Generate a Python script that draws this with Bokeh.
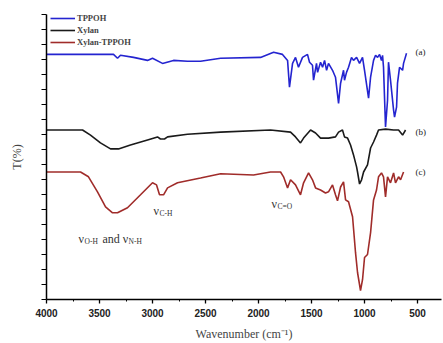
from bokeh.plotting import figure
from bokeh.models import Range1d, FixedTicker, ColumnDataSource
from bokeh.core.properties import value
from bokeh.embed import file_html
from bokeh.resources import INLINE

# ---------------- data ----------------
series_names = ["TPPOH", "Xylan", "Xylan-TPPOH"]

wn_a = [4000, 3368, 3330, 3302, 3179, 3047, 3000, 2906, 2802, 2670, 2547, 2358, 1981, 1858,
        1774, 1726, 1708, 1679, 1651, 1623, 1585, 1538, 1519, 1491, 1481, 1453, 1443, 1415,
        1396, 1377, 1358, 1340, 1302, 1274, 1245, 1226, 1198, 1189, 1170, 1151, 1123, 1104,
        1075, 1047, 1019, 1000, 962, 943, 915, 896, 877, 858, 840, 830, 821, 802, 783, 774,
        755, 726, 717, 698, 689, 670, 641, 632, 604]
t_a = [81.7, 81.7, 80.4, 81.4, 80.7, 79.7, 80.4, 78.7, 79.7, 79.4, 79.4, 80.4, 80.7, 82.4,
       81.7, 79.7, 70.8, 78.7, 80.7, 77.4, 80.7, 81.7, 79.1, 78.1, 73.1, 78.7, 75.7, 79.1,
       77.4, 79.7, 76.4, 78.7, 76.4, 74.1, 65.4, 72.1, 76.4, 73.1, 75.7, 77.4, 80.7, 79.7,
       80.7, 78.7, 80.7, 76.4, 67.1, 74.1, 79.7, 81.4, 80.7, 81.7, 79.7, 81.4, 77.4, 57.5,
       66.4, 79.1, 73.1, 63.1, 60.8, 64.1, 72.1, 77.4, 76.4, 78.7, 82.1]

wn_b = [4000, 3660, 3585, 3491, 3396, 3321, 3208, 3047, 2953, 2925, 2887, 2858, 2670, 2358,
        1887, 1698, 1651, 1604, 1575, 1509, 1462, 1415, 1340, 1274, 1245, 1208, 1189, 1160,
        1132, 1104, 1075, 1066, 1047, 1028, 1009, 972, 943, 915, 887, 868, 802, 726, 679,
        641, 613]
t_b = [56.5, 56.5, 54.8, 52.2, 50.2, 50.2, 51.5, 53.2, 54.2, 53.5, 53.5, 54.2, 55.1, 55.8,
       56.5, 55.8, 54.2, 52.2, 53.8, 56.5, 55.5, 53.8, 53.8, 54.2, 55.8, 56.5, 54.2, 53.8,
       51.5, 48.2, 44.2, 42.5, 38.5, 39.9, 42.5, 44.9, 50.5, 52.5, 54.8, 56.5, 56.8, 56.5,
       56.5, 54.8, 56.5]

wn_c = [4000, 3679, 3604, 3519, 3443, 3377, 3330, 3236, 3113, 3000, 2962, 2934, 2896, 2858,
        2764, 2547, 2358, 2047, 1887, 1792, 1764, 1726, 1698, 1651, 1604, 1575, 1528, 1491,
        1462, 1415, 1368, 1340, 1302, 1274, 1255, 1226, 1198, 1179, 1151, 1113, 1085, 1066,
        1038, 1019, 1000, 972, 943, 915, 887, 868, 840, 821, 802, 783, 755, 726, 708, 679,
        660, 632]
t_c = [42.5, 42.5, 40.9, 35.9, 30.9, 28.9, 28.9, 30.6, 34.9, 38.9, 38.2, 34.9, 34.9, 37.2,
       38.9, 40.5, 41.9, 41.5, 42.5, 42.5, 40.9, 37.2, 39.9, 38.2, 34.9, 38.9, 42.2, 39.9,
       37.2, 36.5, 35.5, 35.9, 38.2, 34.9, 32.9, 37.5, 39.2, 33.2, 32.6, 27.6, 15.6, 9.0,
       3.0, 6.6, 14.0, 15.0, 22.3, 33.2, 36.5, 40.9, 42.2, 40.9, 34.2, 40.9, 38.9, 42.2,
       38.9, 40.9, 39.9, 42.5]

x_major_ticks = [4000, 3500, 3000, 2500, 2000, 1500, 1000, 500]
x_minor_ticks = [3750, 3250, 2750, 2250, 1750, 1250, 750]
y_ticks = [95, 90, 85, 80, 75, 70, 65, 60, 55, 50, 45, 40, 35, 30, 25, 20, 15, 10, 5, 0]

curve_tags = ["(a)", "(b)", "(c)"]
band_main = ["\u03bd", "and \u03bd", "\u03bd", "\u03bd"]
band_sub = ["O-H", "N-H", "C-H", "C=O"]

# ---------------- figure ----------------
p = figure(width=443, height=343, output_backend="svg", toolbar_location=None,
           x_range=Range1d(4000, 274), y_range=Range1d(0, 95),
           min_border_left=46, min_border_right=2, min_border_top=14, min_border_bottom=43)
p.outline_line_color = None
p.xgrid.visible = False
p.ygrid.visible = False
p.background_fill_color = "white"
p.border_fill_color = "white"

colors = ["#2424d0", "#1a1a1a", "#a02c2a"]
p.line(wn_a, t_a, color=colors[0], line_width=1.6, legend_label=series_names[0])
p.line(wn_b, t_b, color=colors[1], line_width=1.6, legend_label=series_names[1])
p.line(wn_c, t_c, color=colors[2], line_width=1.6, legend_label=series_names[2])

# axes
xa = p.xaxis[0]
xa.ticker = FixedTicker(ticks=x_major_ticks, minor_ticks=x_minor_ticks)
xa.axis_label = "Wavenumber (cm\u207b\u00b9)"
xa.axis_label_text_font = "Liberation Serif"
xa.axis_label_text_font_style = "normal"
xa.axis_label_text_font_size = "12px"
xa.axis_label_standoff = 7
xa.major_label_text_font = "Liberation Sans"
xa.major_label_text_font_style = "bold"
xa.major_label_text_font_size = "10px"
xa.major_label_text_color = "#222222"
xa.major_label_standoff = 5
xa.major_tick_in = 0
xa.major_tick_out = 4
xa.minor_tick_in = 0
xa.minor_tick_out = 2
xa.axis_line_width = 1.5
xa.major_tick_line_width = 1.3
xa.minor_tick_line_width = 1.0

ya = p.yaxis[0]
ya.ticker = FixedTicker(ticks=[], minor_ticks=y_ticks)
ya.axis_label = "T(%)"
ya.axis_label_text_font = "Liberation Serif"
ya.axis_label_text_font_style = "normal"
ya.axis_label_text_font_size = "12px"
ya.axis_label_standoff = 18
ya.major_label_standoff = 0
ya.major_tick_in = 0
ya.major_tick_out = 0
ya.minor_tick_in = 0
ya.minor_tick_out = 5
ya.axis_line_width = 1.5
ya.minor_tick_line_width = 1.2

# legend
lg = p.legend[0]
lg.location = (4, 251)
lg.margin = 0
lg.padding = 0
lg.spacing = 0
lg.border_line_color = None
lg.background_fill_alpha = 0
lg.glyph_width = 25
lg.glyph_height = 12
lg.label_height = 12
lg.label_standoff = 2
lg.label_text_font = "Liberation Serif"
lg.label_text_font_style = "bold"
lg.label_text_font_size = "8.5px"

# curve tags (a), (b), (c)
tag_x = [519, 519, 519]
tag_y = [82.4, 55.8, 42.5]
p.text(x=tag_x, y=tag_y, text=curve_tags, text_font=value("Liberation Serif"),
       text_font_size="9px", text_baseline="middle", text_align="left", text_color="#222222")

# band annotations with subscripts
main_src = ColumnDataSource(dict(
    x=[3698, 3698, 2991, 1877],
    y=[20.3, 20.3, 29.6, 31.9],
    text=band_main,
    dx=[0, 24, 0, 0],
))
sub_src = ColumnDataSource(dict(
    x=[3698, 3698, 2991, 1877],
    y=[20.3, 20.3, 29.6, 31.9],
    text=band_sub,
    dx=[6, 50, 6, 6],
))
p.text(x="x", y="y", text="text", source=main_src, text_font=value("Liberation Serif"),
       text_font_size="12px", x_offset="dx", y_offset=0,
       text_baseline="alphabetic", text_align="left", text_color="#333333")
p.text(x="x", y="y", text="text", source=sub_src, text_font=value("Liberation Serif"),
       text_font_size="7.5px", x_offset="dx", y_offset=3,
       text_baseline="alphabetic", text_align="left", text_color="#333333")

open("out.html", "w").write(file_html(p, INLINE))
